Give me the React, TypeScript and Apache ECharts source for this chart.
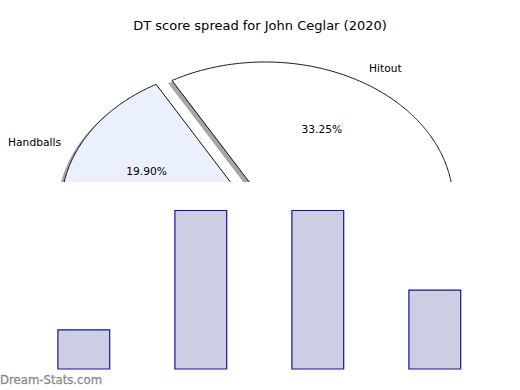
import React, { useEffect, useRef } from "react";
import * as echarts from "echarts";

const titleText = "DT score spread for John Ceglar (2020)";
const pieLabels = ["Hitout", "Handballs", ""];
const pieValues = [33.25, 19.9, 46.85];
const pieColors = ["#ffffff", "#eaf0fd", "#ffffff"];
const pieExplode = [0.06, 0.06, 0.06];
const barCategories = ["1", "2", "3", "4"];
const barValues = [3, 9, 9, 5];
const watermarkText = "Dream-Stats.com";

const FONT = "DejaVu Sans";
const PIE_CX = 259.5;
const PIE_CY = 210.3;
const PIE_RX = 188;
const PIE_RY = 141;

const total = pieValues.reduce((a, b) => a + b, 0);
const starts: number[] = [];
{
  let acc = 0;
  for (const v of pieValues) {
    starts.push((acc / total) * 360);
    acc += v;
  }
}

function shadeColor(hex: string) {
  const r = parseInt(hex.slice(1, 3), 16);
  const g = parseInt(hex.slice(3, 5), 16);
  const b = parseInt(hex.slice(5, 7), 16);
  return `rgba(${Math.round(r * 0.3)},${Math.round(g * 0.3)},${Math.round(b * 0.3)},0.5)`;
}

function wedge(i: number, value: number, dx: number, dy: number) {
  const a1 = starts[i];
  const a2 = a1 + (value / total) * 360;
  const m = (((a1 + a2) / 2) * Math.PI) / 180;
  const e = pieExplode[i];
  const cx = PIE_CX + e * PIE_RX * Math.cos(m) + dx;
  const cy = PIE_CY - e * PIE_RY * Math.sin(m) + dy;
  const pts: number[][] = [[cx, cy]];
  const n = Math.max(2, Math.ceil((a2 - a1) * 2));
  for (let k = 0; k <= n; k++) {
    const t = ((a1 + ((a2 - a1) * k) / n) * Math.PI) / 180;
    pts.push([cx + PIE_RX * Math.cos(t), cy - PIE_RY * Math.sin(t)]);
  }
  return { pts, cx, cy, m };
}

export default function App() {
  const ref = useRef<HTMLDivElement>(null);
  useEffect(() => {
    if (!ref.current) return;
    const chart = echarts.init(ref.current, null, { renderer: "svg" });
    const pieData = pieValues.map((v, i) => ({ name: pieLabels[i], value: v }));
    chart.setOption({
      animation: false,
      backgroundColor: "#ffffff",
      title: {
        text: titleText,
        left: "center",
        top: 19,
        padding: 0,
        textStyle: { fontFamily: FONT, fontSize: 13, fontWeight: "normal", color: "#000" },
      },
      grid: { left: 25.3, width: 468, top: 190, height: 179 },
      xAxis: {
        type: "category",
        data: barCategories,
        show: false,
      },
      yAxis: { type: "value", min: 1, max: 10, show: false },
      graphic: [
        {
          type: "rect",
          z: 3,
          shape: { x: 0, y: 182, width: 520, height: 208 },
          style: { fill: "#ffffff" },
        },
        {
          type: "text",
          z: 5,
          x: 0,
          y: 380,
          style: {
            text: watermarkText,
            fontFamily: FONT,
            fontSize: 11.7,
            fontWeight: "normal",
            fill: "#888888",
            stroke: "#9a9a9a",
            lineWidth: 0.3,
            verticalAlign: "middle",
            align: "left",
          },
        },
      ],
      series: [
        {
          type: "custom",
          coordinateSystem: "none",
          z: 1,
          silent: true,
          data: pieData,
          renderItem: (params: any, api: any) => {
            const i = params.dataIndex;
            const w = wedge(i, api.value(0), -0.02 * PIE_RX, 0.02 * PIE_RY);
            return {
              type: "polygon",
              shape: { points: w.pts },
              style: { fill: shadeColor(pieColors[i]), stroke: "none" },
            };
          },
        },
        {
          type: "custom",
          coordinateSystem: "none",
          z: 2,
          silent: true,
          data: pieData,
          renderItem: (params: any, api: any) => {
            const i = params.dataIndex;
            const v = api.value(0);
            const w = wedge(i, v, 0, 0);
            const children: any[] = [
              {
                type: "polygon",
                shape: { points: w.pts },
                style: { fill: pieColors[i], stroke: "#111", lineWidth: 1, lineJoin: "miter" },
              },
            ];
            if (pieLabels[i]) {
              const ux = PIE_RX * Math.cos(w.m);
              const uy = -PIE_RY * Math.sin(w.m);
              children.push({
                type: "text",
                z2: 10,
                style: {
                  text: pieLabels[i],
                  x: w.cx + 1.1 * ux,
                  y: w.cy + 1.1 * uy,
                  align: ux > 0 ? "left" : "right",
                  verticalAlign: "middle",
                  fontFamily: FONT,
                  fontSize: 10.7,
                  fill: "#000",
                },
              });
              children.push({
                type: "text",
                z2: 10,
                style: {
                  text: ((v / total) * 100).toFixed(2) + "%",
                  x: w.cx + 0.6 * ux,
                  y: w.cy + 0.6 * uy,
                  align: "center",
                  verticalAlign: "middle",
                  fontFamily: FONT,
                  fontSize: 10.7,
                  fill: "#000",
                },
              });
            }
            return { type: "group", children };
          },
        },
        {
          type: "bar",
          z: 4,
          data: barValues,
          barWidth: 53,
          itemStyle: { color: "#cdcde4", borderColor: "#14149c", borderWidth: 1.2 },
        },
      ],
    });
    return () => chart.dispose();
  }, []);
  return (
    <div
      ref={ref}
      style={{ position: "absolute", left: 0, top: 0, width: 520, height: 390 }}
    />
  );
}
